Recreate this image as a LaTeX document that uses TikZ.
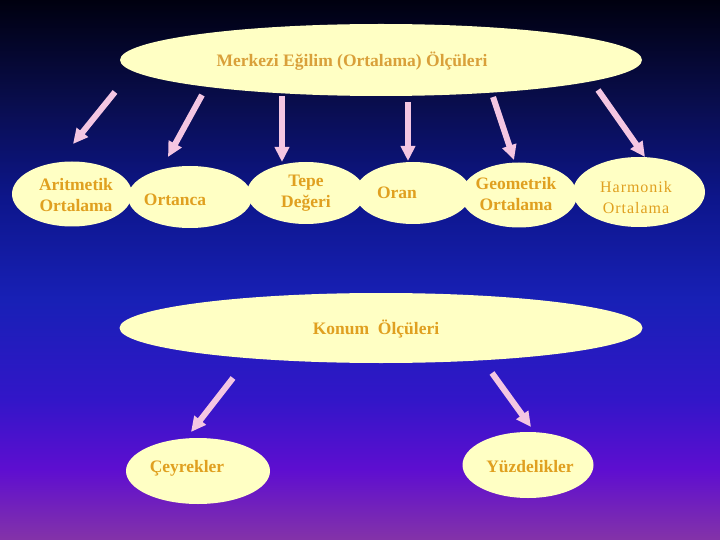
\documentclass[tikz,border=0pt]{standalone}
\usepackage{fontspec}
\setmainfont{Liberation Serif}
\newfontfamily\hfont[LetterSpace=6]{Liberation Serif}
\usetikzlibrary{shapes.geometric,arrows.meta}
\definecolor{cream}{HTML}{FFFFC4}
\definecolor{gold}{HTML}{E0A020}
\definecolor{goldtop}{HTML}{D9A03A}
\definecolor{pinkarr}{HTML}{F4C6E2}
\definecolor{bgA}{HTML}{00000F}
\definecolor{bgB}{HTML}{090D4C}
\definecolor{bgC}{HTML}{0D168C}
\definecolor{bgD}{HTML}{1820B6}
\definecolor{bgE}{HTML}{3216C8}
\definecolor{bgF}{HTML}{5E0ED0}
\definecolor{bgG}{HTML}{8433A8}
\pgfdeclareverticalshading{bgshade}{100bp}{color(0bp)=(bgG); color(25bp)=(bgG); color(31.5bp)=(bgF); color(38bp)=(bgE); color(47.2bp)=(bgD); color(56.5bp)=(bgC); color(65.7bp)=(bgB); color(75bp)=(bgA); color(100bp)=(bgA)}
\tikzset{
  oval/.style={ellipse, fill=cream, draw=none, inner sep=0pt},
  lbl/.style={text=gold, font=\bfseries\fontsize{17.5}{21}\selectfont, align=center, inner sep=0pt},
  fat/.style={draw=pinkarr, line width=6pt, -{Triangle[length=15pt,width=14pt]}}
}
\begin{document}
\begin{tikzpicture}[x=1pt,y=-1pt]
\useasboundingbox (0,0) rectangle (720,540);
\fill[shading=bgshade] (0,0) rectangle (720,540);
% ellipses
\node[oval, minimum width=522pt, minimum height=72pt] (top) at (381,60) {};
\node[oval, minimum width=120pt, minimum height=65pt] (ari) at (72,194) {};
\node[oval, minimum width=124pt, minimum height=62pt] (ort) at (190,197) {};
\node[oval, minimum width=118pt, minimum height=62pt] (tep) at (306,193) {};
\node[oval, minimum width=116pt, minimum height=62pt] (ora) at (413,193) {};
\node[oval, minimum width=116pt, minimum height=65pt] (geo) at (519,195) {};
\node[oval, minimum width=132pt, minimum height=70pt] (har) at (639,192) {};
\node[oval, minimum width=523pt, minimum height=70pt] (kon) at (381,328) {};
\node[oval, minimum width=144pt, minimum height=66pt] (cey) at (198,471) {};
\node[oval, minimum width=131pt, minimum height=66pt] (yuz) at (528,465) {};
% texts
\node[lbl, text=goldtop] (ttop) at (352,61) {Merkezi Eğilim (Ortalama) Ölçüleri};
\node[lbl] (tari) at (76,195) {Aritmetik\\Ortalama};
\node[lbl] (tort) at (175,200) {Ortanca};
\node[lbl] (ttep) at (306,193) {Tepe\\Değeri};
\node[lbl] (tora) at (397,193) {Oran};
\node[lbl] (tgeo) at (516,194) {Geometrik\\Ortalama};
\node[lbl, font=\hfont\fontsize{16}{21}\selectfont] (thar) at (636,198) {Harmonik\\Ortalama};
\node[lbl] (tkon) at (376,329) {Konum\ \ Ölçüleri};
\node[lbl] (tcey) at (187,468) {Çeyrekler};
\node[lbl] (tyuz) at (530,467) {Yüzdelikler};
% arrow end points
\coordinate (a1s) at (115,92);  \coordinate (a1e) at (73,144);
\coordinate (a2s) at (202,95);  \coordinate (a2e) at (168,157);
\coordinate (a3s) at (282,96);  \coordinate (a3e) at (282,162);
\coordinate (a4s) at (408,102); \coordinate (a4e) at (408,161);
\coordinate (a5s) at (493,97);  \coordinate (a5e) at (514,160);
\coordinate (a6s) at (598,90);  \coordinate (a6e) at (645,157);
\coordinate (a7s) at (233,378); \coordinate (a7e) at (191,432);
\coordinate (a8s) at (492,373); \coordinate (a8e) at (531,427);
\foreach \i in {1,...,8} {\draw[fat] (a\i s) -- (a\i e);}
\end{tikzpicture}
\end{document}
